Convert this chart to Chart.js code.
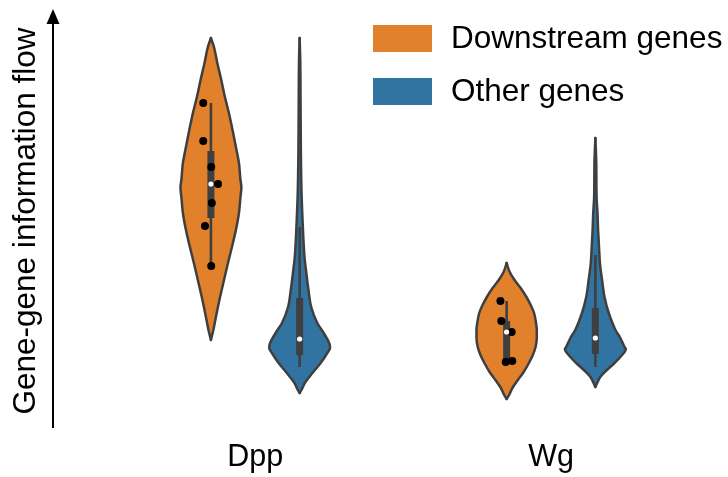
<!DOCTYPE html>
<html>
<head>
<meta charset="utf-8">
<script src="https://cdn.jsdelivr.net/npm/chart.js@4.4.1/dist/chart.umd.min.js"></script>
<style>
  body { margin: 0; background: #fff; }
</style>
</head>
<body>
<canvas id="myChart" width="728" height="477"></canvas>
<script>
// categories and hue groups
let categories = ['Dpp', 'Wg']
let seriesNames = ['Downstream genes', 'Other genes']

// violin outlines: levels (information flow) and relative density (1 = widest)
let dppDownLevels  = [0.87, 0.97, 1.14, 1.30, 1.47, 1.64, 1.80, 1.97, 2.14, 2.30, 2.40, 2.47, 2.64, 2.80, 2.97, 3.14, 3.30, 3.47, 3.64, 3.80, 3.89]
let dppDownDensity = [0,    0.08, 0.19, 0.30, 0.43, 0.56, 0.69, 0.82, 0.92, 0.97, 1.00, 0.97, 0.92, 0.82, 0.71, 0.59, 0.46, 0.34, 0.21, 0.10, 0]

let dppOtherLevels  = [0.34, 0.37, 0.44, 0.54, 0.64, 0.74, 0.79, 0.84, 0.94, 1.04, 1.20, 1.37, 1.54, 1.70, 2.04, 2.37, 2.77, 3.27, 3.67, 3.89]
let dppOtherDensity = [0,    0.06, 0.17, 0.42, 0.69, 0.91, 1.00, 0.97, 0.79, 0.58, 0.38, 0.29, 0.22, 0.16, 0.10, 0.06, 0.04, 0.03, 0.02, 0]

let wgDownLevels  = [0.28, 0.32, 0.39, 0.47, 0.55, 0.64, 0.72, 0.80, 0.89, 0.97, 1.05, 1.14, 1.22, 1.30, 1.39, 1.47, 1.55, 1.64]
let wgDownDensity = [0,    0.08, 0.19, 0.37, 0.56, 0.73, 0.86, 0.95, 0.99, 0.99, 0.96, 0.90, 0.79, 0.65, 0.46, 0.26, 0.10, 0]

let wgOtherLevels  = [0.40, 0.44, 0.50, 0.57, 0.64, 0.70, 0.78, 0.80, 0.89, 0.97, 1.14, 1.30, 1.47, 1.64, 1.80, 1.97, 2.14, 2.30, 2.64, 2.89]
let wgOtherDensity = [0,    0.06, 0.16, 0.38, 0.63, 0.82, 1.00, 0.96, 0.82, 0.66, 0.44, 0.30, 0.22, 0.15, 0.12, 0.09, 0.07, 0.04, 0.03, 0]

// inner box: [whisker low, q1, median, q3, whisker high]
let dppDownBox  = [1.62, 2.09, 2.43, 2.76, 3.24]
let dppOtherBox = [0.60, 0.72, 0.88, 1.29, 2.00]
let wgDownBox   = [0.63, 0.63, 0.95, 1.06, 1.26]
let wgOtherBox  = [0.60, 0.73, 0.89, 1.19, 1.72]

// individual downstream genes (value and strip jitter)
let dppDownPoints = [3.24, 2.86, 2.60, 2.43, 2.24, 2.01, 1.61]
let dppDownJitter = [-0.026, -0.026, 0.001, 0.024, 0.003, -0.020, 0.001]
let wgDownPoints  = [1.26, 1.06, 0.95, 0.65, 0.66]
let wgDownJitter  = [-0.021, -0.018, 0.017, -0.003, 0.019]

const colors = ['#e1812c', '#3274a1']
const edge = '#3f3f3f'
const dodge = 0.15
const halfWidth = 0.103
const FONT = 'Liberation Sans, Arial, sans-serif'

function violin(levels, density, center, color){
    let base = {
        borderColor: edge,
        borderWidth: 2.5,
        pointRadius: 0,
        cubicInterpolationMode: 'monotone',
        borderCapStyle: 'round',
        borderJoinStyle: 'round',
        order: 3
    }
    let left = levels.map((v, i) => ({x: center - density[i] * halfWidth, y: v}))
    let right = levels.map((v, i) => ({x: center + density[i] * halfWidth, y: v}))
    return [
        Object.assign({data: left, fill: false}, base),
        Object.assign({data: right, fill: '-1', backgroundColor: color}, base)
    ]
}

function inner(box, center){
    return [
        {data: [{x: center, y: box[0]}, {x: center, y: box[4]}], borderColor: edge, borderWidth: 2.6, pointRadius: 0, order: 2},
        {data: [{x: center, y: box[1]}, {x: center, y: box[3]}], borderColor: edge, borderWidth: 7, borderCapStyle: 'butt', pointRadius: 0, order: 1},
        {data: [{x: center, y: box[2]}], showLine: false, pointRadius: 2.6, pointBorderWidth: 0, pointBackgroundColor: '#ffffff', order: 0}
    ]
}

function strip(values, jitter, center){
    return {
        data: values.map((v, i) => ({x: center + jitter[i], y: v})),
        showLine: false, pointRadius: 4, pointBorderWidth: 0, pointBackgroundColor: '#000000', order: 0
    }
}

let datasets = [].concat(
    violin(dppDownLevels, dppDownDensity, 0 - dodge, colors[0]),
    violin(dppOtherLevels, dppOtherDensity, 0 + dodge, colors[1]),
    violin(wgDownLevels, wgDownDensity, 1 - dodge, colors[0]),
    violin(wgOtherLevels, wgOtherDensity, 1 + dodge, colors[1]),
    inner(dppDownBox, 0 - dodge),
    inner(dppOtherBox, 0 + dodge),
    inner(wgDownBox, 1 - dodge),
    inner(wgOtherBox, 1 + dodge),
    [strip(dppDownPoints, dppDownJitter, 0 - dodge), strip(wgDownPoints, wgDownJitter, 1 - dodge)]
)

// arrow head on the y axis and the hue legend
const extras = {
    id: 'extras',
    afterDraw(chart){
        const ctx = chart.ctx
        const area = chart.chartArea
        ctx.save()
        ctx.fillStyle = '#000'
        ctx.beginPath()
        ctx.moveTo(area.left, area.top - 6)
        ctx.lineTo(area.left - 6.5, area.top + 9)
        ctx.lineTo(area.left + 6.5, area.top + 9)
        ctx.closePath()
        ctx.fill()

        ctx.font = '31.5px ' + FONT
        ctx.textBaseline = 'alphabetic'
        seriesNames.forEach((name, i) => {
            let y = 25 + i * 53
            ctx.fillStyle = colors[i]
            ctx.fillRect(373, y, 59, 27)
            ctx.fillStyle = '#000'
            ctx.fillText(name, 451, y + 22.5)
        })
        ctx.restore()
    }
}

let ctx = document.getElementById('myChart').getContext('2d')
let myChart = new Chart(ctx, {
    type: 'line',
    data: { datasets: datasets },
    plugins: [extras],
    options: {
        responsive: false,
        animation: false,
        devicePixelRatio: 1,
        indexAxis: 'y',
        layout: { padding: { top: 15, left: 0, right: 0, bottom: 0 } },
        plugins: {
            legend: { display: false },
            tooltip: { enabled: false }
        },
        scales: {
            x: {
                type: 'linear',
                position: 'bottom',
                min: -0.684,
                max: 1.585,
                grid: { display: false, drawTicks: false },
                border: { display: false },
                afterBuildTicks: s => { s.ticks = categories.map((c, i) => ({value: i})) },
                afterFit: s => { s.height = 50 },
                ticks: {
                    autoSkip: false,
                    maxRotation: 0,
                    padding: 12,
                    color: '#000',
                    font: { family: FONT, size: 30.5 },
                    callback: v => categories[v]
                }
            },
            y: {
                type: 'linear',
                position: 'left',
                min: 0,
                max: 4.12,
                grid: { display: false, drawTicks: false },
                border: { display: true, color: '#000', width: 2 },
                ticks: { display: false },
                afterFit: s => { s.width = 53 },
                title: {
                    display: true,
                    text: 'Gene-gene information flow',
                    color: '#000',
                    padding: { top: 7 },
                    font: { family: FONT, size: 31.5 }
                }
            }
        }
    }
})
</script>
</body>
</html>
